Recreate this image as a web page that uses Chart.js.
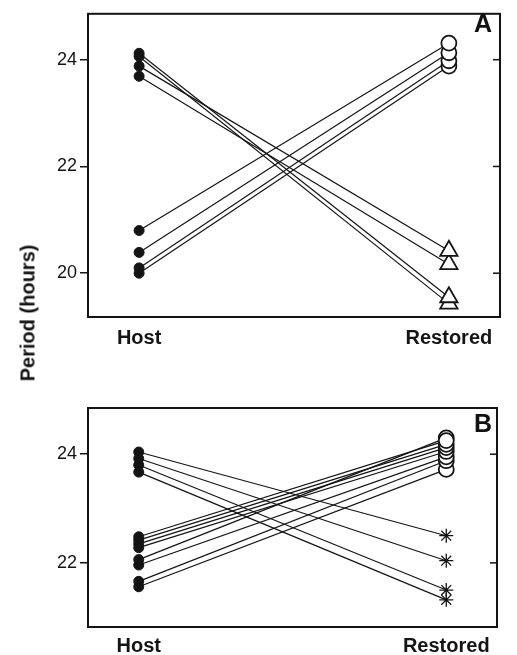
<!DOCTYPE html>
<html>
<head>
<meta charset="utf-8">
<script src="https://cdn.jsdelivr.net/npm/chart.js@4.4.1/dist/chart.umd.min.js"></script>
<style>
  html, body { margin: 0; padding: 0; background: #fff; }
  #wrap { position: relative; width: 517px; height: 655px; overflow: hidden; font-family: "Liberation Sans", Arial, sans-serif; }
  #cA { position: absolute; left: 0; top: 0; }
  #cB { position: absolute; left: 0; top: 350px; }
  .ytitle { position: absolute; left: 28px; top: 313px; transform: translate(-50%, -50%) rotate(-90deg); font-weight: bold; font-size: 20px; color: #111; white-space: nowrap; }
  .panel { position: absolute; font-weight: bold; font-size: 25px; color: #111; line-height: 1; }
</style>
</head>
<body>
<div id="wrap">
  <canvas id="cA" width="517" height="350"></canvas>
  <canvas id="cB" width="517" height="305"></canvas>
  <div class="ytitle">Period (hours)</div>
  <div class="panel" style="left:474px; top:11px;">A</div>
  <div class="panel" style="left:474px; top:411px;">B</div>
</div>
<script>
// ---- data ----
const categories = ['Host', 'Restored'];
const categoryX = [0, 1];

// Panel A
const hostA_toTriangle     = [24.12, 24.06, 23.88, 23.69];
const restoredA_triangle   = [19.55, 19.43, 20.42, 20.17];
const hostA_toCircle       = [20.80, 20.39, 20.10, 20.00];
const restoredA_circle     = [24.31, 24.13, 23.98, 23.88];
const yTicksA = [20, 22, 24];

// Panel B
const hostB_toStar         = [24.04, 23.92, 23.80, 23.67];
const restoredB_star       = [22.50, 22.04, 21.50, 21.32];
const hostB_toCircle       = [22.48, 22.42, 22.35, 22.28, 22.06, 21.96, 21.66, 21.56];
const restoredB_circle     = [24.25, 24.18, 24.12, 24.05, 24.30, 23.95, 23.88, 23.72];
const yTicksB = [22, 24];

// ---- helpers ----
const INK = '#141414';
function endRadius(style) { return style === 'circle' ? 7.5 : (style === 'triangle' ? 10 : 7); }
function pairs(hosts, restored, endStyle) {
  return hosts.map((h, i) => ({
    type: 'line',
    data: [{ x: categoryX[0], y: h }, { x: categoryX[1], y: restored[i] }],
    borderColor: INK,
    borderWidth: 1.2,
    tension: 0,
    pointStyle: ['circle', endStyle],
    pointRadius: [5, endRadius(endStyle)],
    pointHoverRadius: [5, endRadius(endStyle)],
    pointBackgroundColor: [INK, '#fff'],
    pointBorderColor: INK,
    pointBorderWidth: [1, endStyle === 'star' ? 1.3 : 1.8]
  }));
}

const framePlugin = {
  id: 'frame',
  afterDraw(chart) {
    const { ctx, chartArea: a } = chart;
    const y = chart.scales.y;
    ctx.save();
    ctx.strokeStyle = INK;
    ctx.lineWidth = 2;
    ctx.strokeRect(a.left, a.top, a.right - a.left, a.bottom - a.top);
    ctx.lineWidth = 1.5;
    y.ticks.forEach(t => {
      const py = y.getPixelForValue(t.value);
      ctx.beginPath();
      ctx.moveTo(a.right, py);
      ctx.lineTo(a.right - 7, py);
      ctx.stroke();
    });
    ctx.restore();
  }
};

function makeChart(id, datasets, yMin, yMax, yTicks, pad, xHeight, xPad) {
  return new Chart(document.getElementById(id), {
    type: 'line',
    data: { datasets },
    plugins: [framePlugin],
    options: {
      responsive: false,
      animation: false,
      events: [],
      layout: { padding: pad },
      plugins: { legend: { display: false }, tooltip: { enabled: false } },
      scales: {
        x: {
          type: 'linear',
          min: -0.165, max: 1.165,
          afterBuildTicks: s => { s.ticks = categoryX.map(v => ({ value: v })); },
          afterFit: s => { s.height = xHeight; },
          grid: { display: false, drawTicks: false },
          border: { display: false },
          ticks: {
            padding: xPad,
            autoSkip: false,
            maxRotation: 0,
            color: INK,
            font: { family: '"Liberation Sans", Arial, sans-serif', size: 20, weight: 'bold' },
            callback: v => categories[categoryX.indexOf(v)]
          }
        },
        y: {
          type: 'linear',
          min: yMin, max: yMax,
          afterBuildTicks: s => { s.ticks = yTicks.map(v => ({ value: v })); },
          afterFit: s => { s.width = 88; },
          grid: { drawOnChartArea: false, drawTicks: true, tickLength: 8, color: INK, lineWidth: 1.5 },
          border: { display: false },
          ticks: {
            padding: 3,
            color: INK,
            font: { family: '"Liberation Sans", Arial, sans-serif', size: 18 }
          }
        }
      }
    }
  });
}

makeChart('cA',
  [...pairs(hostA_toTriangle, restoredA_triangle, 'triangle'),
   ...pairs(hostA_toCircle, restoredA_circle, 'circle')],
  19.18, 24.86, yTicksA,
  { left: 0, right: 17, top: 8, bottom: 0 }, 33, 9);

makeChart('cB',
  [...pairs(hostB_toStar, restoredB_star, 'star'),
   ...pairs(hostB_toCircle, restoredB_circle, 'circle')],
  20.82, 24.85, yTicksB,
  { left: 0, right: 20, top: 58, bottom: 0 }, 28, 7);
</script>
</body>
</html>
